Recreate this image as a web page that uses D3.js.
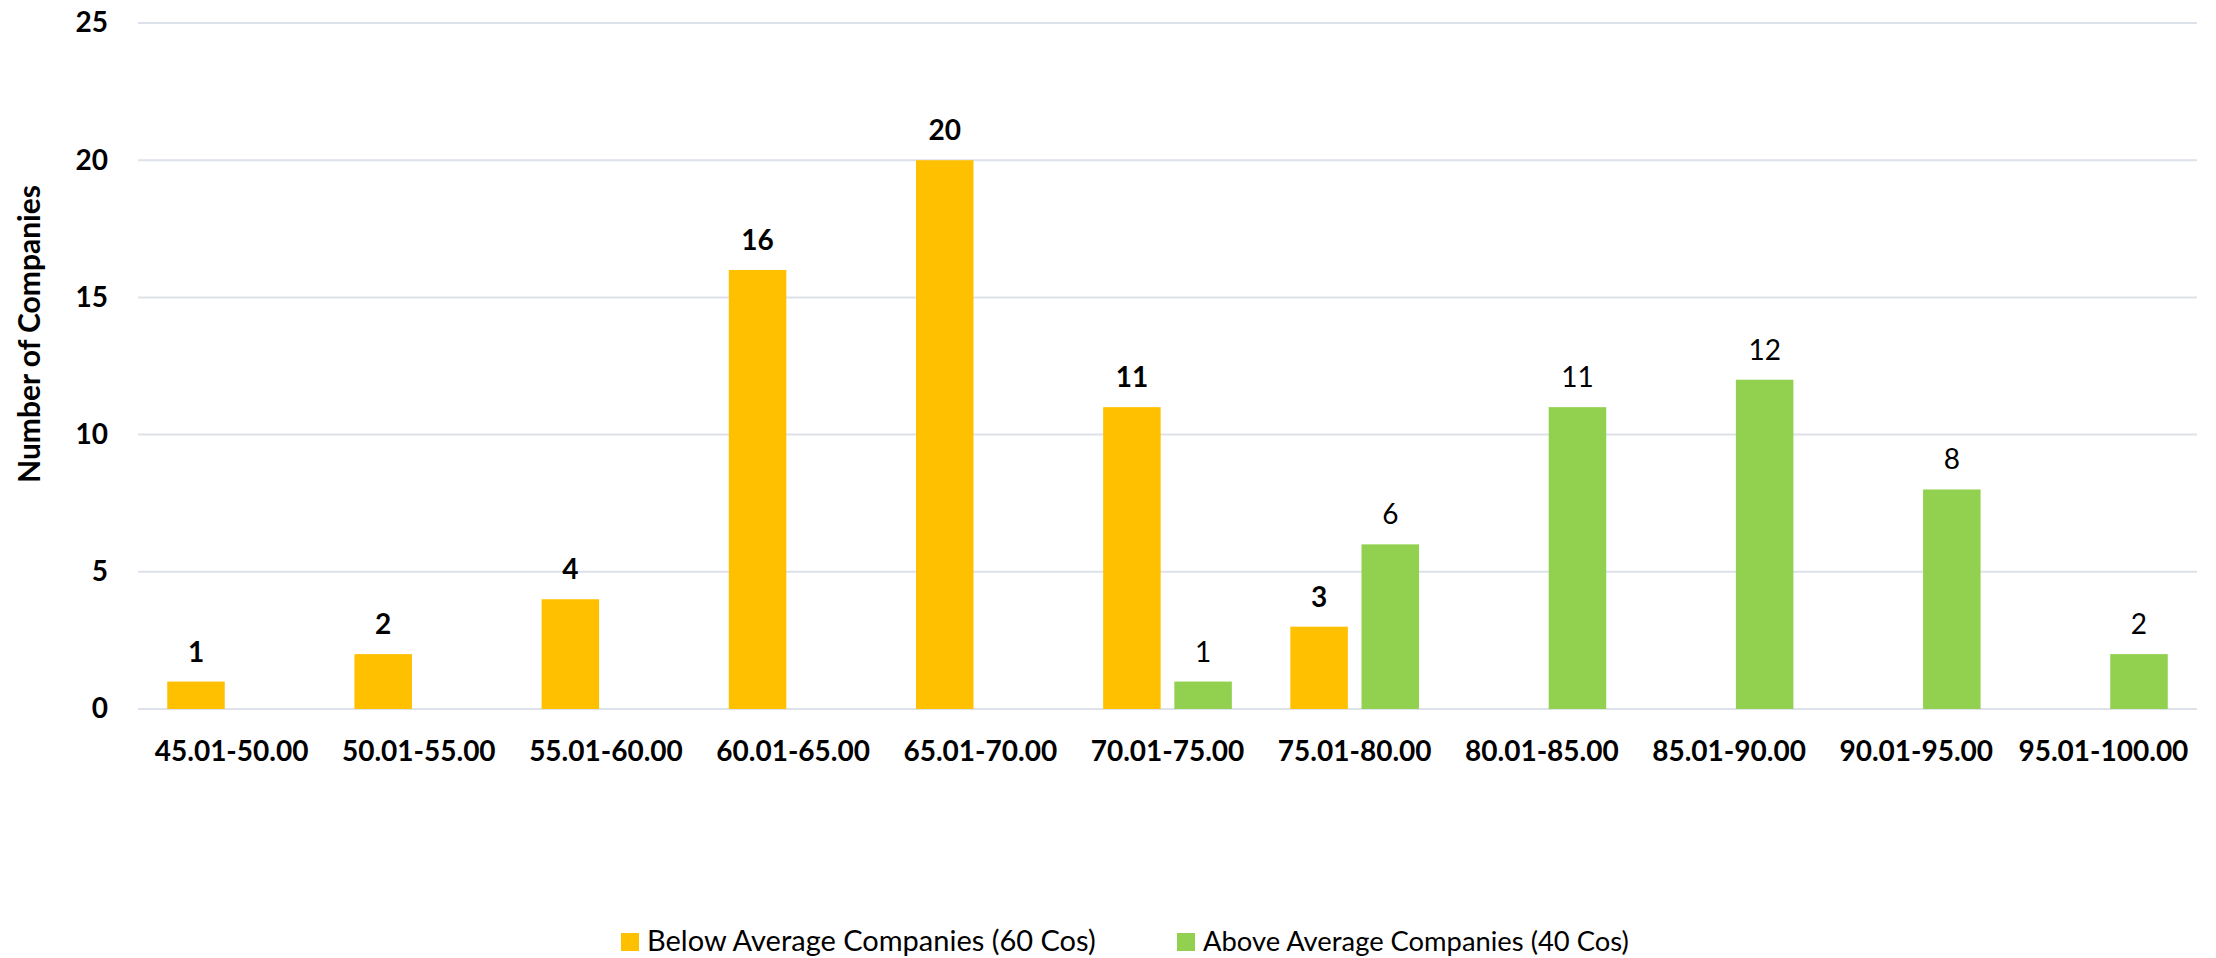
<!DOCTYPE html>
<html>
<head>
<meta charset="utf-8">
<script src="https://cdn.jsdelivr.net/npm/d3@7"></script>
<style>
  html, body { margin: 0; padding: 0; background: #ffffff; }
  svg { display: block; }
  text { font-family: Lato, "Open Sans", sans-serif; fill: #000; }
</style>
</head>
<body>
<svg id="chart" width="2216" height="958"></svg>
<script>
// Score bands and company counts per band
const categories = ["45.01-50.00", "50.01-55.00", "55.01-60.00", "60.01-65.00", "65.01-70.00",
                    "70.01-75.00", "75.01-80.00", "80.01-85.00", "85.01-90.00", "90.01-95.00", "95.01-100.00"];
const belowAvg = [1, 2, 4, 16, 20, 11, 3, null, null, null, null];
const aboveAvg = [null, null, null, null, null, 1, 6, 11, 12, 8, 2];
const seriesNames = ["Below Average Companies (60 Cos)", "Above Average Companies (40 Cos)"];
const yTicks = [0, 5, 10, 15, 20, 25];
const yTitle = "Number of Companies";

const colors = ["#FFC000", "#92D050"];
const labelWeights = ["bold", "normal"];

const W = 2216, H = 958;
const margin = { left: 138, right: 19, top: 23, bottom: 249 };
const plotW = W - margin.left - margin.right;
const plotH = H - margin.top - margin.bottom;

const svg = d3.select("#chart");
const g = svg.append("g").attr("transform", `translate(${margin.left},${margin.top})`);

const x0 = d3.scaleBand().domain(categories).range([0, plotW]).paddingInner(0.3125).paddingOuter(0.15625);
const x1 = d3.scaleBand().domain([0, 1]).range([0, x0.bandwidth()]).paddingInner(0.192);
const y = d3.scaleLinear().domain([0, 25]).range([plotH, 0]);

// gridlines
g.append("g")
  .selectAll("line")
  .data(yTicks)
  .join("line")
  .attr("x1", 0).attr("x2", plotW)
  .attr("y1", d => y(d)).attr("y2", d => y(d))
  .attr("stroke", "#dde2ea")
  .attr("stroke-width", 2);

// y axis tick labels
const yAxis = d3.axisLeft(y).tickValues(yTicks).tickSize(0).tickPadding(30);
const ya = g.append("g").call(yAxis);
ya.select(".domain").remove();
ya.selectAll("text")
  .attr("font-family", "Lato, sans-serif")
  .attr("font-size", 28)
  .attr("font-weight", "bold")
  .attr("fill", "#000");

// x axis labels
const xAxis = d3.axisBottom(x0).tickSize(0).tickPadding(32);
const xa = g.append("g").attr("transform", `translate(0,${plotH})`).call(xAxis);
xa.select(".domain").remove();
xa.selectAll("text")
  .attr("font-family", "Lato, sans-serif")
  .attr("font-size", 28)
  .attr("font-weight", "bold")
  .attr("fill", "#000");

// bars and value labels
const series = [belowAvg, aboveAvg];
series.forEach((vals, si) => {
  const data = categories.map((c, i) => ({ c, v: vals[i] })).filter(d => d.v != null);
  g.append("g")
    .selectAll("rect")
    .data(data)
    .join("rect")
    .attr("x", d => x0(d.c) + x1(si))
    .attr("y", d => y(d.v))
    .attr("width", x1.bandwidth())
    .attr("height", d => y(0) - y(d.v))
    .attr("fill", colors[si]);
  g.append("g")
    .selectAll("text")
    .data(data)
    .join("text")
    .attr("x", d => x0(d.c) + x1(si) + x1.bandwidth() / 2)
    .attr("y", d => y(d.v) - 20)
    .attr("text-anchor", "middle")
    .attr("font-size", 28)
    .attr("font-weight", labelWeights[si])
    .text(d => d.v);
});

// y axis title, sized to its measured span
const yt = svg.append("text")
  .attr("transform", `translate(40,${margin.top + 311}) rotate(-90)`)
  .attr("text-anchor", "middle")
  .attr("font-weight", "bold")
  .attr("font-size", 24)
  .text(yTitle);
const ytLen = yt.node().getComputedTextLength();
yt.attr("font-size", 24 * 298 / ytLen);

// legend
const legendX = [621, 1177];
const legendW = [449, 426];
const legend = svg.append("g");
seriesNames.forEach((name, i) => {
  legend.append("rect")
    .attr("x", legendX[i]).attr("y", 933)
    .attr("width", 18).attr("height", 18)
    .attr("fill", colors[i]);
  const t = legend.append("text")
    .attr("x", legendX[i] + 26).attr("y", 951)
    .attr("font-size", 25)
    .text(name);
  const len = t.node().getComputedTextLength();
  t.attr("font-size", 25 * legendW[i] / len);
});
</script>
</body>
</html>
